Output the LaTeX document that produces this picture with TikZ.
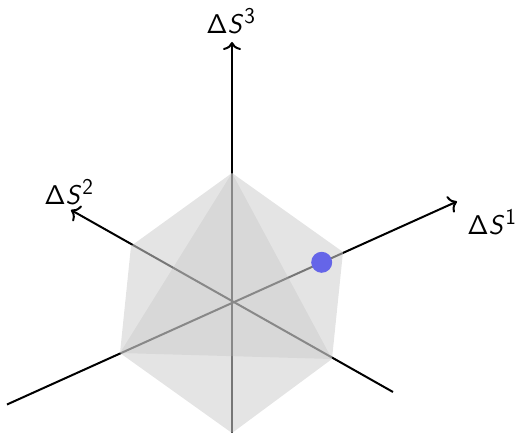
\documentclass[tikz,border=0pt]{standalone}
\usepackage{amsmath}
\usetikzlibrary{arrows.meta, positioning}
\definecolor{FACEgray}{HTML}{D0D0D0}
\definecolor{INNERgray}{HTML}{B9B9B9}
\definecolor{POINTblue}{HTML}{6565E8}
\DeclareMathAlphabet{\mathsfsl}{OT1}{cmss}{m}{sl}
\newcommand{\deltas}[1]{$\mathsf{\Delta}\mathsfsl{S}^{\mathsf{#1}}$}
\tikzset{
   axisline/.style={line width=2pt, black, -{Computer Modern Rightarrow[length=8pt, width=18pt, line width=2pt]}},
   facefill/.style={fill=FACEgray, fill opacity=0.57, draw=none},
   innerfill/.style={fill=INNERgray, fill opacity=0.28, draw=none},
   axislabel/.style={font=\fontsize{24.88}{24.88}\selectfont, inner sep=0pt, scale=1.09, transform shape}
}
\begin{document}
\begin{tikzpicture}[x=1pt, y=-1pt]
   \useasboundingbox (0,0) rectangle (517,433);
   % Corners of the hexagon
   \coordinate (origin) at (232,303);
   \coordinate (top) at (232,173);
   \coordinate (bottom) at (232,433);
   \coordinate (upleft) at (131,246);
   \coordinate (upright) at (343,252);
   \coordinate (lowleft) at (120,353);
   \coordinate (lowright) at (332,359);
   % Axes
   \coordinate (endA) at (457,201.5);
   \coordinate (endAneg) at (7,404.5);
   \coordinate (endB) at (71,210);
   \coordinate (endBneg) at (393,392);
   \coordinate (endC) at (232,42);
   \draw[axisline] (endAneg) -- (endA);
   \draw[axisline] (endBneg) -- (endB);
   \draw[axisline] (bottom) -- (endC);
   % Faces
   \fill[facefill] (top) -- (upright) -- (lowright) -- (bottom) -- (lowleft) -- (upleft) -- cycle;
   \fill[innerfill] (top) -- (lowleft) -- (lowright) -- cycle;
   % Point on the first axis
   \node[circle, fill=POINTblue, minimum size=21pt, inner sep=0pt] (point) at (321.7,262.3) {};
   % Labels
   \node[axislabel] (labelA) at (492,222) {\deltas{1}};
   \node[axislabel] (labelB) at (69,192) {\deltas{2}};
   \node[axislabel] (labelC) at (231,21) {\deltas{3}};
\end{tikzpicture}
\end{document}
